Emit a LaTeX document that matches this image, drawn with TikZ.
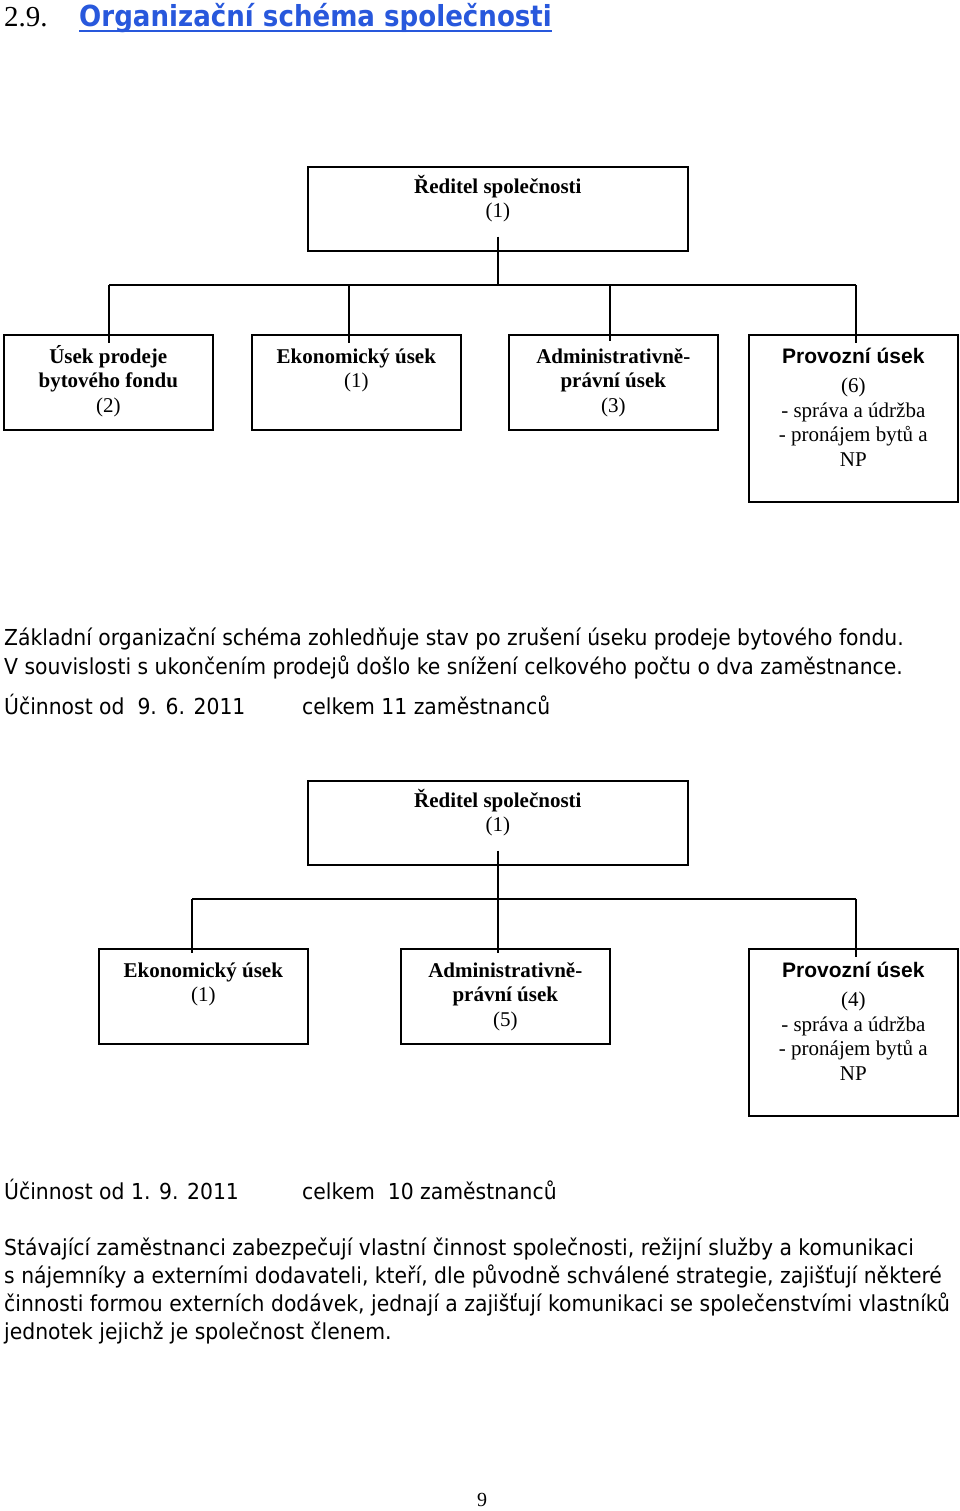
\documentclass[tikz,border=0pt]{standalone}
\usepackage{fontspec}
\setmainfont{Liberation Serif}
\newfontfamily\bodyfont[FakeStretch=0.925]{DejaVu Sans}
\newfontfamily\titlefont[FakeStretch=0.90]{DejaVu Sans}
\newfontfamily\headfont{Liberation Sans}
\usepackage{xcolor}
\definecolor{titleblue}{RGB}{40,88,220}
\usetikzlibrary{positioning}
\newcommand{\firstrow}{\rule{0pt}{21pt}}

\begin{document}
\begin{tikzpicture}[x=1pt,y=-1pt]
	\tikzstyle{unit}=[draw=black,line width=1.6pt,anchor=north west,inner sep=0pt,minimum width=209pt,minimum height=95pt]
	\tikzstyle{unittext}=[anchor=north,inner sep=0pt,align=center,font=\fontsize{21}{24.5}\selectfont]
	\tikzstyle{link}=[line width=1.6pt]
	\tikzstyle{body}=[anchor=base west,inner sep=0pt,font=\bodyfont\fontsize{22}{28}\selectfont]
	\useasboundingbox (0,0) rectangle (960,1511);

	% heading
	\node[anchor=base west,inner sep=0pt,font=\fontsize{29}{30}\selectfont] (secnum) at (4,27) {2.9.};
	\node[anchor=base west,inner sep=0pt,text=titleblue,font=\titlefont\bfseries\fontsize{29}{30}\selectfont] (title) at (79,27) {Organizační schéma společnosti};
	\draw[titleblue,line width=2pt] ([yshift=-4pt]title.base west) -- ([yshift=-4pt]title.base east);

	% schema 1
	\node[unit,minimum width=380pt,minimum height=84pt] (dirA) at (307,166) {};
	\node[unittext] at ([yshift=-6pt]dirA.north) {\firstrow\textbf{Ředitel společnosti}\\(1)};
	\node[unit] (prodA) at (3,334) {};
	\node[unittext] at ([yshift=-8pt]prodA.north) {\firstrow\textbf{Úsek prodeje}\\\textbf{bytového fondu}\\(2)};
	\node[unit] (ekoA) at (251,334) {};
	\node[unittext] at ([yshift=-8pt]ekoA.north) {\firstrow\textbf{Ekonomický úsek}\\(1)};
	\node[unit] (admA) at (508,334) {};
	\node[unittext] at ([yshift=-8pt]admA.north) {\firstrow\textbf{Administrativně-}\\\textbf{právní úsek}\\(3)};
	\node[unit,minimum height=167pt] (provA) at (748,334) {};
	\node[unittext] at ([yshift=-8pt]provA.north) {\firstrow{\headfont\bfseries Provozní úsek}\\[5pt](6)\\- správa a údržba\\- pronájem bytů a\\NP};

	\coordinate (busAw) at (109,285);
	\coordinate (busAe) at (856,285);
	\draw[link] ([yshift=15pt]dirA.south) -- (dirA.south |- busAw);
	\draw[link] (busAw) -- (busAe);
	\draw[link] (busAw) -- ([yshift=-9pt]busAw |- prodA.north);
	\draw[link] ([xshift=-7.5pt]ekoA.north |- busAw) -- ([xshift=-7.5pt,yshift=-9pt]ekoA.north);
	\draw[link] ([xshift=-3.5pt]admA.north |- busAw) -- ([xshift=-3.5pt,yshift=-7pt]admA.north);
	\draw[link] (busAe) -- ([yshift=-9pt]busAe |- provA.north);

	% text
	\node[body] (t1) at (4,645) {Základní organizační schéma zohledňuje stav po zrušení úseku prodeje bytového fondu.};
	\node[body] (t2) at (4,674) {V souvislosti s ukončením prodejů došlo ke snížení celkového počtu o dva zaměstnance.};
	\node[body] (datA) at (4,714) {Účinnost od\ \ 9. 6. 2011};
	\node[body] (sumA) at (302,714) {celkem 11 zaměstnanců};

	% schema 2
	\node[unit,minimum width=380pt,minimum height=84pt] (dirB) at (307,780) {};
	\node[unittext] at ([yshift=-6pt]dirB.north) {\firstrow\textbf{Ředitel společnosti}\\(1)};
	\node[unit] (ekoB) at (98,948) {};
	\node[unittext] at ([yshift=-8pt]ekoB.north) {\firstrow\textbf{Ekonomický úsek}\\(1)};
	\node[unit] (admB) at (400,948) {};
	\node[unittext] at ([yshift=-8pt]admB.north) {\firstrow\textbf{Administrativně-}\\\textbf{právní úsek}\\(5)};
	\node[unit,minimum height=167pt] (provB) at (748,948) {};
	\node[unittext] at ([yshift=-8pt]provB.north) {\firstrow{\headfont\bfseries Provozní úsek}\\[5pt](4)\\- správa a údržba\\- pronájem bytů a\\NP};

	\coordinate (busBw) at (192,899);
	\coordinate (busBe) at (856,899);
	\draw[link] ([yshift=15pt]dirB.south) -- ([yshift=-5pt]dirB.south |- admB.north);
	\draw[link] (busBw) -- (busBe);
	\draw[link] (busBw) -- ([yshift=-5pt]busBw |- ekoB.north);
	\draw[link] (busBe) -- ([yshift=-9pt]busBe |- provB.north);

	% text
	\node[body] (datB) at (4,1199) {Účinnost od 1. 9. 2011};
	\node[body] (sumB) at (302,1199) {celkem\ \ 10 zaměstnanců};
	\node[body] (p1) at (4,1255) {Stávající zaměstnanci zabezpečují vlastní činnost společnosti, režijní služby a komunikaci};
	\node[body] (p2) at (4,1283) {s nájemníky a externími dodavateli, kteří, dle původně schválené strategie, zajišťují některé};
	\node[body] (p3) at (4,1311) {činnosti formou externích dodávek, jednají a zajišťují komunikaci se společenstvími vlastníků};
	\node[body] (p4) at (4,1339) {jednotek jejichž je společnost členem.};

	\node[anchor=base,inner sep=0pt,font=\fontsize{20}{24}\selectfont] (page) at (482,1506) {9};
\end{tikzpicture}
\end{document}
